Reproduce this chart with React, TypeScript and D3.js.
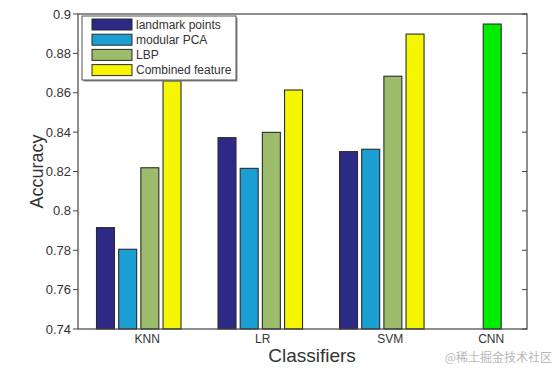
import * as d3 from 'd3';

const classifiers = ['KNN', 'LR', 'SVM', 'CNN'];
const classifierTicks = [1.07, 2.02, 3.07, 3.9];

const seriesNames = ['landmark points', 'modular PCA', 'LBP', 'Combined feature'];
const landmarkPoints = [0.7915, 0.8372, 0.8301, 0];
const modularPCA = [0.7805, 0.8216, 0.8313, NaN];
const lbp = [0.8219, 0.8399, 0.8684, NaN];
const combinedFeature = [0.866, 0.8614, 0.8898, NaN];
const cnnAccuracy = 0.8949;

const yTicks = [0.74, 0.76, 0.78, 0.8, 0.82, 0.84, 0.86, 0.88, 0.9];

const colors = ['#2d2a85', '#1b9fd2', '#9cbb6b', '#f6f600'];
const cnnColor = '#00ec00';

export default function App() {
  const width = 556;
  const height = 368;
  const margin = { top: 14, right: 29, bottom: 39, left: 78 };
  const innerW = width - margin.left - margin.right;
  const innerH = height - margin.top - margin.bottom;

  const x = d3.scaleLinear().domain([0.5, 4.195]).range([0, innerW]);
  const y = d3.scaleLinear().domain([0.74, 0.9]).range([innerH, 0]);

  const pitch = 0.1825;
  const barW = x(0.148) - x(0);
  const series = [landmarkPoints, modularPCA, lbp, combinedFeature];

  const slotX = (group: number, slot: number) => x(group + 1 + (slot - 1.5) * pitch) - barW / 2;

  const font = 'Arial, "Liberation Sans", Helvetica, sans-serif';

  return (
    <div style={{ position: 'absolute', left: 0, top: 0, background: '#fff' }}>
      <svg width={width} height={height} style={{ display: 'block' }} fontFamily={font}>
        <rect width={width} height={height} fill="#fff" />
        <g transform={`translate(${margin.left},${margin.top})`}>
          {series.map((vals, s) =>
            vals.map((v, i) =>
              isNaN(v) ? null : (
                <rect
                  key={`${s}-${i}`}
                  x={slotX(i, s)}
                  y={y(Math.max(v, 0.74))}
                  width={barW}
                  height={innerH - y(Math.max(v, 0.74))}
                  fill={colors[s]}
                  stroke="#2b2b2b"
                  strokeWidth={1.1}
                />
              )
            )
          )}
          <rect
            x={slotX(3, 1)}
            y={y(cnnAccuracy)}
            width={barW}
            height={innerH - y(cnnAccuracy)}
            fill={cnnColor}
            stroke="#2b2b2b"
            strokeWidth={1.1}
          />

          {/* axes box */}
          <rect x={0} y={0} width={innerW} height={innerH} fill="none" stroke="#444" strokeWidth={1.2} />

          {yTicks.map(t => (
            <g key={t}>
              <line x1={-5} x2={0} y1={y(t)} y2={y(t)} stroke="#444" />
              <line x1={innerW - 5} x2={innerW} y1={y(t)} y2={y(t)} stroke="#444" />
              <text x={-7} y={y(t)} dy="0.35em" textAnchor="end" fontSize={13} fill="#333">
                {d3.format('')(t)}
              </text>
            </g>
          ))}

          {classifiers.map((c, i) => (
            <text key={c} x={x(classifierTicks[i])} y={innerH + 14} textAnchor="middle" fontSize={12} fill="#333">
              {c}
            </text>
          ))}

          <text x={x(2.5) - 9} y={innerH + 33} textAnchor="middle" fontSize={19} fill="#333">
            Classifiers
          </text>
          <text
            transform={`translate(${-35},${171.5 - margin.top}) rotate(-90)`}
            textAnchor="middle"
            fontSize={18}
            fill="#333"
          >
            Accuracy
          </text>

          {/* legend */}
          <g transform="translate(4,2)">
            <rect x={1.5} y={1.5} width={154} height={64} fill="#888" />
            <rect x={0} y={0} width={154} height={64} fill="#fff" stroke="#555" strokeWidth={1} />
            {seriesNames.map((n, i) => (
              <g key={n} transform={`translate(10,${3 + i * 15.2})`}>
                <rect x={0} y={0} width={40} height={11} fill={colors[i]} stroke="#2b2b2b" strokeWidth={1} />
                <text x={44} y={5.5} dy="0.35em" fontSize={12} fill="#333">
                  {n}
                </text>
              </g>
            ))}
          </g>
        </g>
        <text x={552} y={362} textAnchor="end" fontSize={12} fill="#b8b8b8" fontFamily='"Noto Sans CJK SC", sans-serif'>
          @稀土掘金技术社区
        </text>
      </svg>
    </div>
  );
}
